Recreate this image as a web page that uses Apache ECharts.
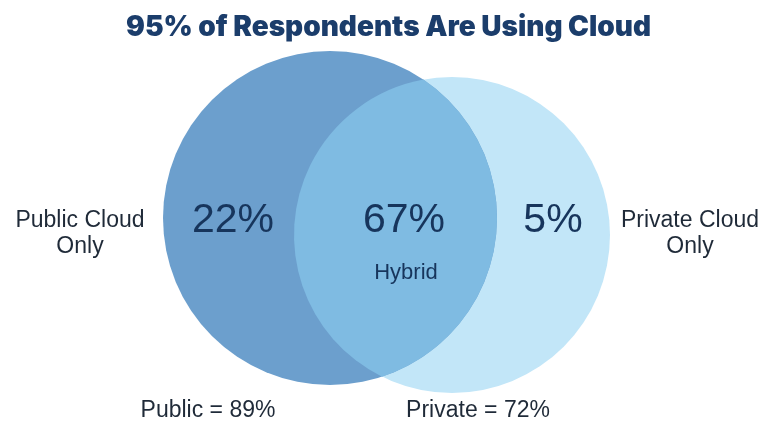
<!DOCTYPE html>
<html>
<head>
<meta charset="utf-8">
<script src="https://cdn.jsdelivr.net/npm/echarts@6/dist/echarts.min.js"></script>
<style>
html,body{margin:0;padding:0;background:#ffffff;}
#chart{width:762px;height:422px;}
</style>
</head>
<body>
<div id="chart"></div>
<script>
// ---- data ----
const titleText = '95% of Respondents Are Using Cloud';
const regionNames = ['Public Cloud\nOnly', 'Hybrid', 'Private Cloud\nOnly'];
const regionValues = [22, 67, 5];
const setNames = ['Public', 'Private'];
const setTotals = [89, 72];

// ---- layout (pixel-like data units on hidden axes) ----
const circleGeom = [
  { cx: 330, cy: 218, r: 167 },  // Public
  { cx: 452, cy: 235, r: 158 }   // Private
];
const pctPos = [[233, 221], [404, 221], [553, 221]];
const namePos = [[80, 234], [406, 273], [690, 234]];
const totalPos = [[208, 411], [478, 411]];

const colors = { pub: '#6c9fcd', both: '#7fbbe2', priv: '#c2e6f8', text: '#17355c', side: '#1f2a38' };

const chart = echarts.init(document.getElementById('chart'), null, { renderer: 'canvas' });

function circleItem(api, g, fill) {
  const c = api.coord([g.cx, g.cy]);
  const s = api.size([g.r, g.r]);
  return { type: 'circle', shape: { cx: c[0], cy: c[1], r: s[0] }, style: { fill: fill } };
}

function lensItem(api) {
  const a0 = circleGeom[0], b0 = circleGeom[1];
  const c1 = api.coord([a0.cx, a0.cy]), c2 = api.coord([b0.cx, b0.cy]);
  const r1 = api.size([a0.r, a0.r])[0], r2 = api.size([b0.r, b0.r])[0];
  const dx = c2[0] - c1[0], dy = c2[1] - c1[1];
  const d = Math.sqrt(dx * dx + dy * dy);
  const a = (r1 * r1 - r2 * r2 + d * d) / (2 * d);
  const h = Math.sqrt(r1 * r1 - a * a);
  const ux = dx / d, uy = dy / d;
  const mx = c1[0] + a * ux, my = c1[1] + a * uy;
  let p1 = [mx - h * uy, my + h * ux];
  let p2 = [mx + h * uy, my - h * ux];
  if (p1[1] > p2[1]) { const t = p1; p1 = p2; p2 = t; }
  const large1 = a < 0 ? 1 : 0;
  const large2 = (d - a) < 0 ? 1 : 0;
  const path = 'M' + p1[0] + ' ' + p1[1] +
    ' A' + r1 + ' ' + r1 + ' 0 ' + large1 + ' 1 ' + p2[0] + ' ' + p2[1] +
    ' A' + r2 + ' ' + r2 + ' 0 ' + large2 + ' 1 ' + p1[0] + ' ' + p1[1] + ' Z';
  return { type: 'path', shape: { pathData: path }, style: { fill: colors.both } };
}

const textFont = '"Liberation Sans", Arial, sans-serif';

const option = {
  animation: false,
  backgroundColor: '#ffffff',
  title: {
    text: titleText,
    left: 126,
    top: 14,
    padding: 0,
    textStyle: { fontFamily: 'Inter, "Open Sans", sans-serif', fontWeight: 900, fontSize: 28, color: '#1b3d6b' }
  },
  grid: { left: 0, right: 0, top: 0, bottom: 0 },
  xAxis: { type: 'value', min: 0, max: 762, show: false },
  yAxis: { type: 'value', min: 0, max: 422, inverse: true, show: false },
  series: [
    {
      type: 'custom',
      coordinateSystem: 'cartesian2d',
      silent: true,
      data: [[0]],
      renderItem: function (params, api) {
        const children = [
          circleItem(api, circleGeom[1], colors.priv),
          circleItem(api, circleGeom[0], colors.pub),
          lensItem(api)
        ];
        regionValues.forEach(function (v, i) {
          const p = api.coord(pctPos[i]);
          children.push({ type: 'text', x: p[0], y: p[1], style: {
            text: v + '%', fill: colors.text, font: '41px ' + textFont, align: 'center', verticalAlign: 'middle' } });
        });
        regionNames.forEach(function (n, i) {
          const p = api.coord(namePos[i]);
          children.push({ type: 'text', x: p[0], y: p[1], style: {
            text: n, fill: i === 1 ? colors.text : colors.side,
            font: (i === 1 ? '22px ' : '23px ') + textFont, lineHeight: 26,
            align: 'center', verticalAlign: 'middle' } });
        });
        setNames.forEach(function (n, i) {
          const p = api.coord(totalPos[i]);
          children.push({ type: 'text', x: p[0], y: p[1], style: {
            text: n + ' = ' + setTotals[i] + '%', fill: colors.side, font: '23px ' + textFont,
            align: 'center', verticalAlign: 'middle' } });
        });
        return { type: 'group', children: children };
      }
    }
  ]
};
chart.setOption(option);
</script>
</body>
</html>
